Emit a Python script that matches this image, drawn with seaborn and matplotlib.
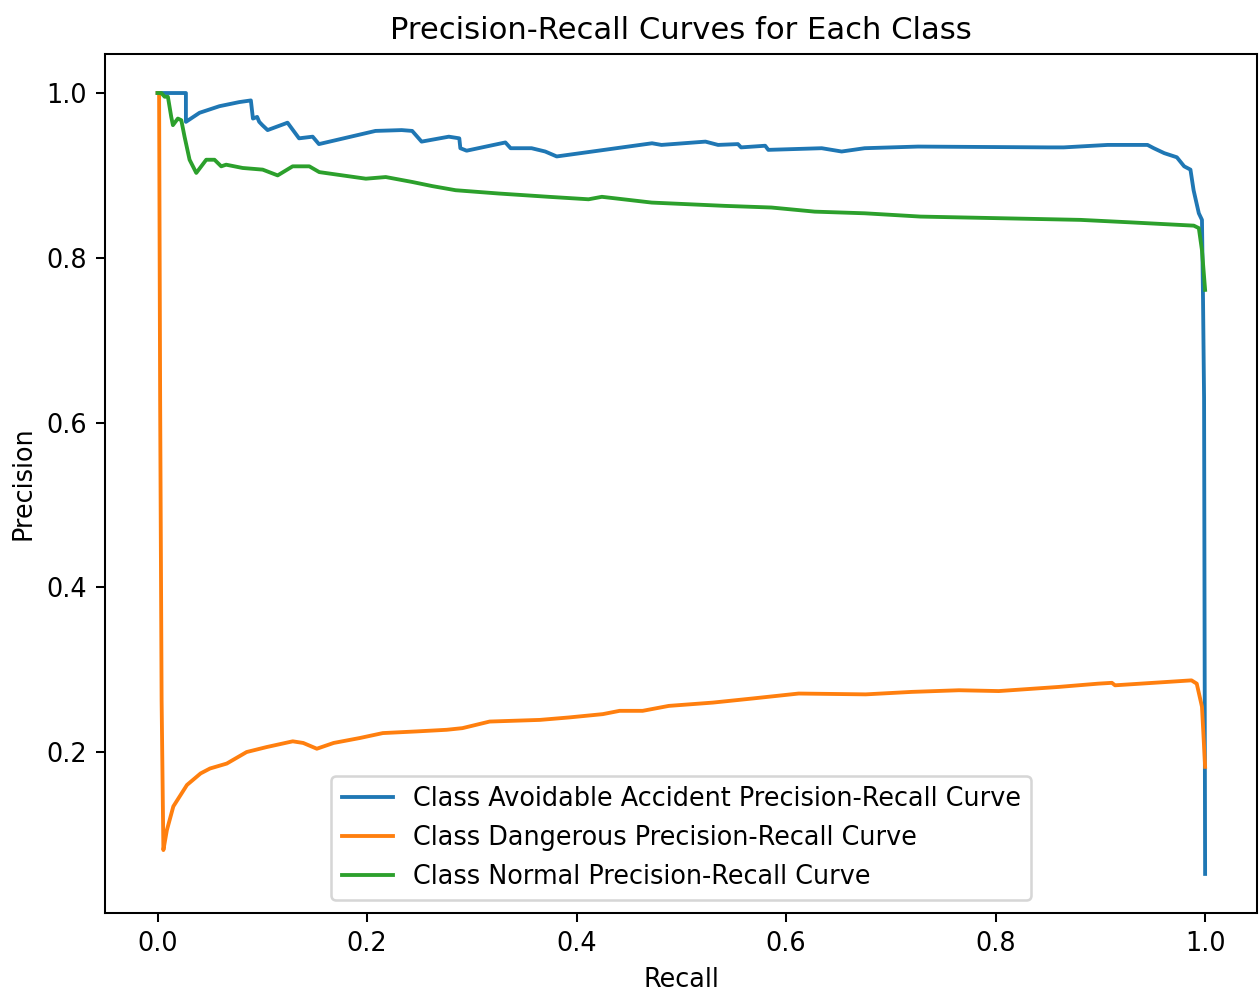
import matplotlib
matplotlib.use("Agg")
import matplotlib.pyplot as plt
import seaborn as sns

# Per-class precision-recall curve points (recall, precision)
avoidable_recall = [0.0, 0.027, 0.027, 0.040, 0.059, 0.078, 0.089, 0.091, 0.095, 0.097,
                    0.100, 0.105, 0.122, 0.124, 0.135, 0.148, 0.154, 0.208, 0.233, 0.243,
                    0.252, 0.278, 0.288, 0.289, 0.295, 0.332, 0.337, 0.357, 0.370, 0.381,
                    0.472, 0.481, 0.523, 0.535, 0.554, 0.557, 0.580, 0.583, 0.634, 0.653,
                    0.675, 0.726, 0.850, 0.865, 0.907, 0.945, 0.951, 0.961, 0.973, 0.980,
                    0.986, 0.989, 0.994, 0.997, 0.998, 0.999, 1.0]
avoidable_precision = [1.0, 1.0, 0.965, 0.976, 0.984, 0.989, 0.991, 0.969, 0.971, 0.965,
                       0.961, 0.955, 0.963, 0.964, 0.945, 0.947, 0.938, 0.954, 0.955, 0.954,
                       0.941, 0.947, 0.945, 0.933, 0.930, 0.940, 0.933, 0.933, 0.929, 0.923,
                       0.939, 0.937, 0.941, 0.937, 0.938, 0.934, 0.936, 0.931, 0.933, 0.929,
                       0.933, 0.935, 0.934, 0.934, 0.937, 0.937, 0.933, 0.927, 0.922, 0.911,
                       0.907, 0.882, 0.854, 0.846, 0.750, 0.630, 0.052]

dangerous_recall = [0.0, 0.0014, 0.0024, 0.0038, 0.0055, 0.0088, 0.015, 0.028, 0.041, 0.050,
                    0.066, 0.085, 0.104, 0.129, 0.139, 0.152, 0.168, 0.193, 0.215, 0.247,
                    0.276, 0.291, 0.317, 0.365, 0.393, 0.425, 0.441, 0.463, 0.488, 0.530,
                    0.568, 0.612, 0.676, 0.720, 0.765, 0.803, 0.860, 0.898, 0.911, 0.914,
                    0.987, 0.992, 0.997, 0.998, 1.0]
dangerous_precision = [1.0, 1.0, 0.627, 0.263, 0.081, 0.105, 0.134, 0.160, 0.174, 0.180,
                       0.186, 0.200, 0.206, 0.213, 0.211, 0.204, 0.211, 0.217, 0.223, 0.225,
                       0.227, 0.229, 0.237, 0.239, 0.242, 0.246, 0.250, 0.250, 0.256, 0.260,
                       0.265, 0.271, 0.270, 0.273, 0.275, 0.274, 0.279, 0.283, 0.284, 0.281,
                       0.287, 0.283, 0.255, 0.231, 0.182]

normal_recall = [0.0, 0.0035, 0.0067, 0.0098, 0.013, 0.0146, 0.0193, 0.0226, 0.0257, 0.0305,
                 0.0369, 0.0464, 0.0543, 0.0607, 0.0654, 0.0812, 0.1003, 0.1146, 0.1289, 0.1448,
                 0.1543, 0.1765, 0.1988, 0.2178, 0.2431, 0.2622, 0.2845, 0.3257, 0.3733, 0.4114,
                 0.4241, 0.4717, 0.5416, 0.586, 0.6273, 0.675, 0.7283, 0.881, 0.9286, 0.9892,
                 0.994, 0.997, 1.0]
normal_precision = [1.0, 1.0, 0.9955, 0.9955, 0.971, 0.961, 0.969, 0.967, 0.947, 0.919,
                    0.903, 0.919, 0.919, 0.911, 0.913, 0.909, 0.907, 0.900, 0.911, 0.911,
                    0.904, 0.900, 0.896, 0.898, 0.892, 0.887, 0.882, 0.878, 0.874, 0.871,
                    0.874, 0.867, 0.863, 0.861, 0.856, 0.854, 0.850, 0.846, 0.843, 0.839,
                    0.836, 0.809, 0.761]

class_names = ["Avoidable Accident", "Dangerous", "Normal"]
curves = [
    (avoidable_recall, avoidable_precision),
    (dangerous_recall, dangerous_precision),
    (normal_recall, normal_precision),
]
colors = ["#1f77b4", "#ff7f0e", "#2ca02c"]

fig = plt.figure(figsize=(1259 / 184, 994 / 184), dpi=184)
ax = fig.add_axes([0.0836, 0.0815, 0.9152, 0.8642])

for name, (rec, prec), col in zip(class_names, curves, colors):
    sns.lineplot(x=rec, y=prec, ax=ax, sort=False, estimator=None, color=col,
                 linewidth=1.5, label=f"Class {name} Precision-Recall Curve")

ax.set_xlabel("Recall")
ax.set_ylabel("Precision")
ax.set_title("Precision-Recall Curves for Each Class")
ax.legend(loc="lower center")

fig.savefig("out.png", dpi=184)
